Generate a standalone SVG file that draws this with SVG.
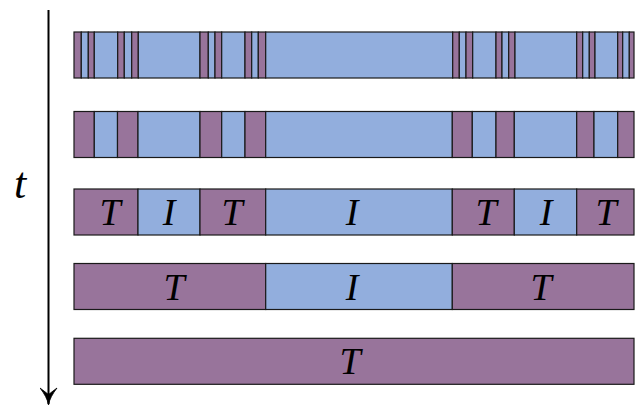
<svg xmlns="http://www.w3.org/2000/svg" width="637" height="407" viewBox="0 0 637 407">
<style>
.T{fill:#98749b;stroke:#1a1a1a;stroke-width:1.2}
.I{fill:#92aedd;stroke:#1a1a1a;stroke-width:1.2}
.lbl{font-family:"Liberation Serif","DejaVu Serif",serif;font-style:italic;font-size:38px;fill:#000;text-anchor:middle}
</style>
<defs>
<marker id="ah" markerWidth="20" markerHeight="18" refX="19" refY="9" orient="auto" markerUnits="userSpaceOnUse" viewBox="0 0 20 18">
<path d="M20,9 C14,8 9,5 3,0.5 C6,4.5 8,7 9.5,9 C8,11 6,13.5 3,17.5 C9,13 14,10 20,9 Z" fill="#000" stroke="#000" stroke-width="0.8" stroke-linejoin="round"/>
</marker>
</defs>
<g id="connectors">
<line x1="48.5" y1="10" x2="48.5" y2="404" stroke="#000" stroke-width="2" marker-end="url(#ah)"/>
</g>
<g id="t-label"><text x="20" y="198" class="lbl" style="font-size:44px">t</text></g>
<g id="row1">
<rect class="T" x="74" y="32" width="7.3" height="46"/>
<rect class="I" x="81.3" y="32" width="7" height="46"/>
<rect class="T" x="88.3" y="32" width="6" height="46"/>
<rect class="I" x="94.3" y="32" width="23.4" height="46"/>
<rect class="T" x="117.7" y="32" width="6.6" height="46"/>
<rect class="I" x="124.3" y="32" width="7.4" height="46"/>
<rect class="T" x="131.7" y="32" width="6.6" height="46"/>
<rect class="I" x="138.3" y="32" width="61.7" height="46"/>
<rect class="T" x="200" y="32" width="8.3" height="46"/>
<rect class="I" x="208.3" y="32" width="6.7" height="46"/>
<rect class="T" x="215" y="32" width="6.7" height="46"/>
<rect class="I" x="221.7" y="32" width="23.3" height="46"/>
<rect class="T" x="245" y="32" width="6.7" height="46"/>
<rect class="I" x="251.7" y="32" width="6.6" height="46"/>
<rect class="T" x="258.3" y="32" width="7.4" height="46"/>
<rect class="I" x="265.7" y="32" width="187" height="46"/>
<rect class="T" x="452.7" y="32" width="6.6" height="46"/>
<rect class="I" x="459.3" y="32" width="6.7" height="46"/>
<rect class="T" x="466" y="32" width="6.7" height="46"/>
<rect class="I" x="472.7" y="32" width="23.3" height="46"/>
<rect class="T" x="496" y="32" width="6" height="46"/>
<rect class="I" x="502" y="32" width="6.7" height="46"/>
<rect class="T" x="508.7" y="32" width="6.3" height="46"/>
<rect class="I" x="515" y="32" width="61.7" height="46"/>
<rect class="T" x="576.7" y="32" width="6" height="46"/>
<rect class="I" x="582.7" y="32" width="6.6" height="46"/>
<rect class="T" x="589.3" y="32" width="5.7" height="46"/>
<rect class="I" x="595" y="32" width="22.7" height="46"/>
<rect class="T" x="617.7" y="32" width="5" height="46"/>
<rect class="I" x="622.7" y="32" width="6.6" height="46"/>
<rect class="T" x="629.3" y="32" width="4.7" height="46"/>
</g>
<g id="row2">
<rect class="T" x="74" y="111.5" width="20.3" height="46"/>
<rect class="I" x="94.3" y="111.5" width="23.2" height="46"/>
<rect class="T" x="117.5" y="111.5" width="20.5" height="46"/>
<rect class="I" x="138" y="111.5" width="62" height="46"/>
<rect class="T" x="200" y="111.5" width="21.7" height="46"/>
<rect class="I" x="221.7" y="111.5" width="23.3" height="46"/>
<rect class="T" x="245" y="111.5" width="20.7" height="46"/>
<rect class="I" x="265.7" y="111.5" width="186.6" height="46"/>
<rect class="T" x="452.3" y="111.5" width="20" height="46"/>
<rect class="I" x="472.3" y="111.5" width="23.7" height="46"/>
<rect class="T" x="496" y="111.5" width="18.3" height="46"/>
<rect class="I" x="514.3" y="111.5" width="62.4" height="46"/>
<rect class="T" x="576.7" y="111.5" width="17.3" height="46"/>
<rect class="I" x="594" y="111.5" width="23.7" height="46"/>
<rect class="T" x="617.7" y="111.5" width="16.3" height="46"/>
</g>
<g id="row3">
<rect class="T" x="74" y="189" width="64" height="46"/>
<rect class="I" x="138" y="189" width="62" height="46"/>
<rect class="T" x="200" y="189" width="65.7" height="46"/>
<rect class="I" x="265.7" y="189" width="186.6" height="46"/>
<rect class="T" x="452.3" y="189" width="62" height="46"/>
<rect class="I" x="514.3" y="189" width="62.4" height="46"/>
<rect class="T" x="576.7" y="189" width="57.3" height="46"/>
<text class="lbl" x="110" y="225">T</text>
<text class="lbl" x="169" y="225">I</text>
<text class="lbl" x="232" y="225">T</text>
<text class="lbl" x="352" y="225">I</text>
<text class="lbl" x="486" y="225">T</text>
<text class="lbl" x="546" y="225">I</text>
<text class="lbl" x="606" y="225">T</text>
</g>
<g id="row4">
<rect class="T" x="74" y="263.5" width="191.7" height="46"/>
<rect class="I" x="265.7" y="263.5" width="186.6" height="46"/>
<rect class="T" x="452.3" y="263.5" width="181.7" height="46"/>
<text class="lbl" x="174" y="300">T</text>
<text class="lbl" x="352" y="300">I</text>
<text class="lbl" x="541" y="300">T</text>
</g>
<g id="row5">
<rect class="T" x="74" y="338.3" width="560" height="46"/>
<text class="lbl" x="350" y="374">T</text>
</g>
</svg>
